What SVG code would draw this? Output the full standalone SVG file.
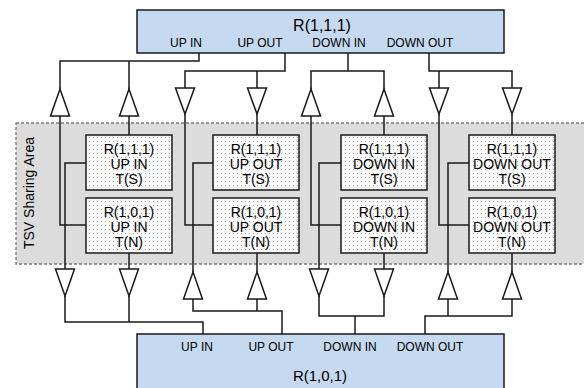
<svg xmlns="http://www.w3.org/2000/svg" width="584" height="388" viewBox="0 0 584 388">
<style>
.wire{fill:none;stroke:#1a1a1a;stroke-width:1.5}
.tri{fill:#fff;stroke:#1a1a1a;stroke-width:1.5;stroke-linejoin:miter}
.router{fill:#c5daf1;stroke:#1a1a1a;stroke-width:1.5}
.tsv{fill:url(#dots);stroke:#1a1a1a;stroke-width:1.5}
.lbl{font-family:"Liberation Sans",Arial,sans-serif;font-size:12px;fill:#000;text-anchor:middle}
.ttl{font-family:"Liberation Sans",Arial,sans-serif;font-size:16px;fill:#000;text-anchor:middle}
.box{font-family:"Liberation Sans",Arial,sans-serif;font-size:14px;fill:#000;text-anchor:middle}
</style>
<defs>
<pattern id="dots" width="4" height="4" patternUnits="userSpaceOnUse">
<rect width="4" height="4" fill="#fbfbfb"/>
<rect x="1" y="1" width="1" height="1" fill="#a8a8a8"/>
</pattern>
</defs>
<g id="tsv-area">
<rect x="16" y="123" width="580" height="141" fill="#dcdcdc" stroke="#7a7a7a" stroke-width="1.3" stroke-dasharray="3,2"/>
<text transform="translate(34,193) rotate(-90)" class="box">TSV Sharing Area</text>
</g>
<g id="connectors">
<polyline class="wire" points="199,53 199,61 60,61 60,89"/>
<polyline class="wire" points="129,61 129,89"/>
<polyline class="wire" points="60,116 60,225 86,225"/>
<polyline class="wire" points="129,116 129,135"/>
<polyline class="wire" points="285,53 285,71 185,71 185,88"/>
<polyline class="wire" points="257,71 257,88"/>
<polyline class="wire" points="185,114 185,225 213,225"/>
<polyline class="wire" points="257,114 257,135"/>
<polyline class="wire" points="348,53 348,71"/>
<polyline class="wire" points="311,89 311,71 384,71 384,89"/>
<polyline class="wire" points="311,116 311,225 341,225"/>
<polyline class="wire" points="384,116 384,135"/>
<polyline class="wire" points="429,53 429,71 512,71 512,88"/>
<polyline class="wire" points="439,71 439,88"/>
<polyline class="wire" points="439,114 439,225 469,225"/>
<polyline class="wire" points="512,114 512,135"/>
<polyline class="wire" points="86,163 65,163 65,269"/>
<polyline class="wire" points="129,253 129,269"/>
<polyline class="wire" points="65,296 65,322 203,322 203,334"/>
<polyline class="wire" points="129,296 129,322"/>
<polyline class="wire" points="213,163 193,163 193,272"/>
<polyline class="wire" points="257,253 257,272"/>
<polyline class="wire" points="193,299 193,311 282,311 282,334"/>
<polyline class="wire" points="257,299 257,311"/>
<polyline class="wire" points="341,163 319,163 319,269"/>
<polyline class="wire" points="384,253 384,269"/>
<polyline class="wire" points="319,296 319,316 384,316 384,296"/>
<polyline class="wire" points="355,316 355,334"/>
<polyline class="wire" points="469,163 448,163 448,272"/>
<polyline class="wire" points="512,253 512,272"/>
<polyline class="wire" points="425,334 425,316 512,316 512,299"/>
<polyline class="wire" points="448,299 448,316"/>
<polygon class="tri" points="60,89 50.5,116 69.5,116"/>
<polygon class="tri" points="129,89 119.5,116 138.5,116"/>
<polygon class="tri" points="175.5,88 194.5,88 185,114"/>
<polygon class="tri" points="247.5,88 266.5,88 257,114"/>
<polygon class="tri" points="311,89 301.5,116 320.5,116"/>
<polygon class="tri" points="384,89 374.5,116 393.5,116"/>
<polygon class="tri" points="429.5,88 448.5,88 439,114"/>
<polygon class="tri" points="502.5,88 521.5,88 512,114"/>
<polygon class="tri" points="55.5,269 74.5,269 65,296"/>
<polygon class="tri" points="119.5,269 138.5,269 129,296"/>
<polygon class="tri" points="193,272 183.5,299 202.5,299"/>
<polygon class="tri" points="257,272 247.5,299 266.5,299"/>
<polygon class="tri" points="309.5,269 328.5,269 319,296"/>
<polygon class="tri" points="374.5,269 393.5,269 384,296"/>
<polygon class="tri" points="448,272 438.5,299 457.5,299"/>
<polygon class="tri" points="512,272 502.5,299 521.5,299"/>
</g>
<g id="router-111">
<rect class="router" x="137" y="10" width="367" height="43"/>
<text class="ttl" x="322" y="30.5">R(1,1,1)</text>
<text class="lbl" x="186" y="46.5">UP IN</text>
<text class="lbl" x="260" y="46.5">UP OUT</text>
<text class="lbl" x="339" y="46.5">DOWN IN</text>
<text class="lbl" x="420" y="46.5">DOWN OUT</text>
</g>
<g id="router-101">
<rect class="router" x="137" y="334" width="367" height="60"/>
<text class="lbl" x="197" y="350.5">UP IN</text>
<text class="lbl" x="271" y="350.5">UP OUT</text>
<text class="lbl" x="350" y="350.5">DOWN IN</text>
<text class="lbl" x="430" y="350.5">DOWN OUT</text>
<text class="ttl" x="320" y="381" style="font-size:15px">R(1,0,1)</text>
</g>
<g id="tsv-up-in-s">
<rect class="tsv" x="86" y="135" width="86" height="55"/>
<text class="box" x="129" y="154">R(1,1,1)</text><text class="box" x="129" y="169">UP IN</text><text class="box" x="129" y="184">T(S)</text>
</g>
<g id="tsv-up-in-n">
<rect class="tsv" x="86" y="198" width="86" height="55"/>
<text class="box" x="129" y="216.5">R(1,0,1)</text><text class="box" x="129" y="231.5">UP IN</text><text class="box" x="129" y="247">T(N)</text>
</g>
<g id="tsv-up-out-s">
<rect class="tsv" x="213" y="135" width="86" height="55"/>
<text class="box" x="256" y="154">R(1,1,1)</text><text class="box" x="256" y="169">UP OUT</text><text class="box" x="256" y="184">T(S)</text>
</g>
<g id="tsv-up-out-n">
<rect class="tsv" x="213" y="198" width="86" height="55"/>
<text class="box" x="256" y="216.5">R(1,0,1)</text><text class="box" x="256" y="231.5">UP OUT</text><text class="box" x="256" y="247">T(N)</text>
</g>
<g id="tsv-down-in-s">
<rect class="tsv" x="341" y="135" width="86" height="55"/>
<text class="box" x="384" y="154">R(1,1,1)</text><text class="box" x="384" y="169">DOWN IN</text><text class="box" x="384" y="184">T(S)</text>
</g>
<g id="tsv-down-in-n">
<rect class="tsv" x="341" y="198" width="86" height="55"/>
<text class="box" x="384" y="216.5">R(1,0,1)</text><text class="box" x="384" y="231.5">DOWN IN</text><text class="box" x="384" y="247">T(N)</text>
</g>
<g id="tsv-down-out-s">
<rect class="tsv" x="469" y="135" width="86" height="55"/>
<text class="box" x="512" y="154">R(1,1,1)</text><text class="box" x="512" y="169">DOWN OUT</text><text class="box" x="512" y="184">T(S)</text>
</g>
<g id="tsv-down-out-n">
<rect class="tsv" x="469" y="198" width="86" height="55"/>
<text class="box" x="512" y="216.5">R(1,0,1)</text><text class="box" x="512" y="231.5">DOWN OUT</text><text class="box" x="512" y="247">T(N)</text>
</g>
</svg>
